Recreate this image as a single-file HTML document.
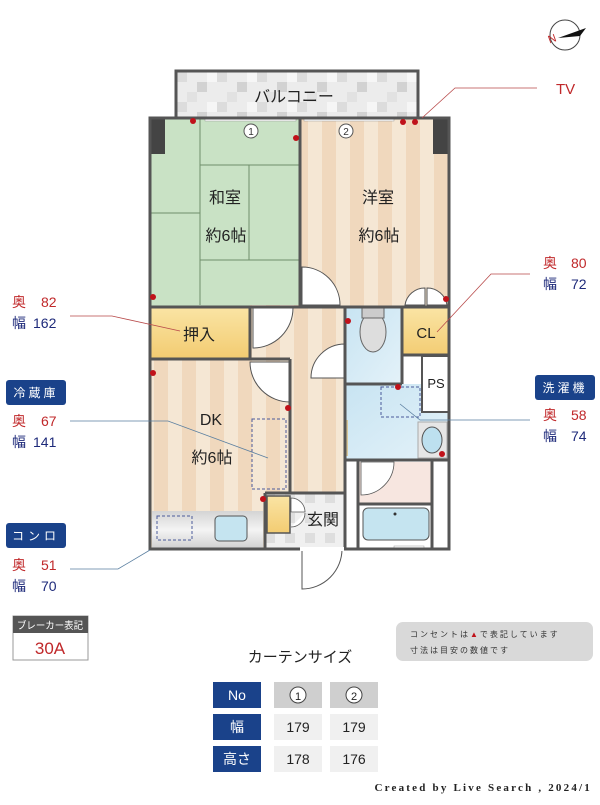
<!DOCTYPE html>
<html><head><meta charset="utf-8">
<style>
body{margin:0;background:#fff;}
svg text{font-family:"Liberation Sans","Noto Sans CJK JP",sans-serif;}
</style></head><body>
<svg width="600" height="800" viewBox="0 0 600 800" xmlns="http://www.w3.org/2000/svg">
<defs>
<pattern id="str" x="0" y="0" width="28" height="10" patternUnits="userSpaceOnUse">
<rect width="14" height="10" fill="#f5e7d4"/><rect x="14" width="14" height="10" fill="#f0d8bd"/>
</pattern>
<pattern id="chk" x="177" y="72" width="40" height="30" patternUnits="userSpaceOnUse">
<rect width="40" height="30" fill="#ececec"/><rect width="10" height="10" fill="#dcdcdc"/><rect x="20" y="10" width="10" height="10" fill="#d2d2d2"/><rect x="10" y="20" width="10" height="10" fill="#e2e2e2"/><rect x="30" y="0" width="10" height="10" fill="#f6f6f6"/>
</pattern>
<pattern id="tile" x="265" y="493" width="20" height="20" patternUnits="userSpaceOnUse">
<rect width="20" height="20" fill="#f0f0f0"/><rect width="10" height="10" fill="#dedede"/>
</pattern>
<linearGradient id="yel" x1="0" y1="0" x2="0" y2="1"><stop offset="0" stop-color="#fae4a4"/><stop offset="1" stop-color="#f3cc72"/></linearGradient>
<linearGradient id="blu" x1="0" y1="0" x2="1" y2="1"><stop offset="0" stop-color="#c8e4f2"/><stop offset="1" stop-color="#e4f2f9"/></linearGradient>
<linearGradient id="gry" x1="0" y1="0" x2="0" y2="1"><stop offset="0" stop-color="#d4d4d4"/><stop offset=".5" stop-color="#f4f4f4"/><stop offset="1" stop-color="#cfcfcf"/></linearGradient>
</defs>

<circle cx="565" cy="35" r="15" fill="#fff" stroke="#444" stroke-width="1"/>
<polygon points="558,38 586,28 580,36" fill="#111"/>
<text x="548" y="42" font-size="11" fill="#c0282a" transform="rotate(-20 553 38)">N</text>

<rect x="176" y="71" width="242" height="49" fill="url(#chk)" stroke="#555" stroke-width="3"/>
<text x="294" y="102" font-size="16" fill="#222" text-anchor="middle">バルコニー</text>

<rect x="150" y="118" width="150" height="190" fill="#c9e2c5"/>
<rect x="300" y="118" width="149" height="190" fill="url(#str)"/>
<rect x="250" y="305" width="96" height="190" fill="url(#str)"/>
<rect x="150" y="358" width="140" height="191" fill="url(#str)"/>
<g stroke="#6f8f6a" stroke-width="1" fill="none">
<line x1="200" y1="118" x2="200" y2="305"/>
<line x1="200" y1="165" x2="299" y2="165"/>
<line x1="200" y1="260" x2="299" y2="260"/>
<line x1="249" y1="165" x2="249" y2="260"/>
<line x1="150" y1="213" x2="200" y2="213"/>
</g>
<rect x="150" y="118" width="15" height="36" fill="#444"/>
<rect x="433" y="118" width="16" height="36" fill="#444"/>
<rect x="205" y="117" width="91" height="4" fill="#fff" stroke="#999" stroke-width=".5"/>
<rect x="304" y="117" width="90" height="4" fill="#fff" stroke="#999" stroke-width=".5"/>
<circle cx="251" cy="131" r="7" fill="#fff" stroke="#555"/><text x="251" y="135" font-size="10" text-anchor="middle" fill="#333">1</text>
<circle cx="346" cy="131" r="7" fill="#fff" stroke="#555"/><text x="346" y="135" font-size="10" text-anchor="middle" fill="#333">2</text>

<text x="225" y="203" font-size="16" text-anchor="middle" fill="#222">和室</text>
<text x="226" y="241" font-size="16" text-anchor="middle" fill="#222">約6帖</text>
<text x="378" y="203" font-size="16" text-anchor="middle" fill="#222">洋室</text>
<text x="379" y="241" font-size="16" text-anchor="middle" fill="#222">約6帖</text>

<rect x="150" y="308" width="100" height="50" fill="url(#yel)"/>
<text x="199" y="340" font-size="16" text-anchor="middle" fill="#222">押入</text>

<rect x="346" y="308" width="57" height="76" fill="url(#blu)"/>
<ellipse cx="373" cy="332" rx="13" ry="20" fill="#ddd" stroke="#666"/>
<rect x="362" y="308" width="22" height="10" fill="#ccc" stroke="#666"/>
<rect x="403" y="308" width="46" height="48" fill="url(#yel)"/>
<text x="426" y="338" font-size="15" text-anchor="middle" fill="#222">CL</text>
<rect x="346" y="384" width="103" height="76" fill="url(#blu)"/>
<rect x="422" y="356" width="27" height="56" fill="#fff" stroke="#555" stroke-width="2"/>
<text x="436" y="388" font-size="13" text-anchor="middle" fill="#222">PS</text>
<rect x="381" y="387" width="39" height="30" fill="none" stroke="#4a5a9a" stroke-dasharray="3,2"/>
<rect x="418" y="422" width="29" height="36" fill="#e6e6e6" stroke="#aaa"/>
<ellipse cx="432" cy="440" rx="10" ry="13" fill="#bde0ef" stroke="#555"/>
<rect x="344" y="420" width="4" height="36" fill="#d8c79a"/>
<rect x="346" y="460" width="103" height="89" fill="#fff"/>
<rect x="359" y="462" width="73" height="42" fill="#f7e6e0"/>
<rect x="359" y="504" width="73" height="45" fill="#fff"/>
<rect x="363" y="508" width="66" height="32" rx="5" fill="#c5e4f0" stroke="#555"/>
<circle cx="395" cy="514" r="1.5" fill="#333"/>
<rect x="394" y="546" width="30" height="3" fill="#fff" stroke="#999" stroke-width=".5"/>
<path d="M361 462 V495 A33 33 0 0 0 394 462 Z" fill="#fff" stroke="#555" stroke-width=".8"/>

<text x="211" y="425" font-size="16" text-anchor="middle" fill="#222">DK</text>
<text x="212" y="463" font-size="16" text-anchor="middle" fill="#222">約6帖</text>
<rect x="252" y="419" width="34" height="70" fill="none" stroke="#4a5a9a" stroke-dasharray="3,2"/>
<rect x="152" y="511" width="111" height="38" fill="url(#gry)"/>
<rect x="157" y="516" width="35" height="24" fill="none" stroke="#4a5a9a" stroke-dasharray="3,2"/>
<rect x="215" y="516" width="32" height="25" rx="4" fill="#c5e4f0" stroke="#555"/>

<rect x="265" y="493" width="80" height="56" fill="url(#tile)"/>
<rect x="267" y="496" width="23" height="37" fill="url(#yel)" stroke="#555" stroke-width="1.5"/>
<text x="323" y="525" font-size="16" text-anchor="middle" fill="#222">玄関</text>
<path d="M291 498 A14 14 0 0 1 305 512 H291 Z M291 527 A14 14 0 0 0 305 513" fill="#fff" stroke="#555" stroke-width=".8"/>

<g fill="#fff" stroke="#555" stroke-width="1">
<path d="M253 308 H293 A40 40 0 0 1 253 348 Z"/>
<path d="M290 362 V402 A40 40 0 0 1 250 362 Z"/>
<path d="M345 378 H311 A34 34 0 0 1 345 344 Z"/>
<path d="M302 305 V267 A38 38 0 0 1 340 305 Z"/>
<path d="M425 305 H405 A20 20 0 0 1 425 288 Z"/>
<path d="M427 305 H447 A20 20 0 0 0 427 288 Z"/>
<path d="M302 549 V589 A40 40 0 0 0 342 549"/>
</g>

<g stroke="#555" stroke-width="3" fill="none">
<rect x="150" y="118" width="299" height="431"/>
<line x1="300" y1="118" x2="300" y2="308"/>
<line x1="150" y1="307" x2="449" y2="307"/>
<line x1="150" y1="359" x2="290" y2="359"/>
<line x1="250" y1="307" x2="250" y2="359"/>
<line x1="290" y1="359" x2="290" y2="493"/>
<line x1="265" y1="493" x2="345" y2="493"/>
<line x1="265" y1="493" x2="265" y2="549"/>
<line x1="345" y1="307" x2="345" y2="549"/>
<line x1="402" y1="307" x2="402" y2="384"/>
<line x1="345" y1="384" x2="402" y2="384"/>
<line x1="402" y1="355" x2="449" y2="355"/>
<line x1="345" y1="460" x2="449" y2="460"/>
<line x1="358" y1="460" x2="358" y2="549"/>
<line x1="432" y1="460" x2="432" y2="549"/>
<line x1="358" y1="504" x2="432" y2="504"/>
</g>
<rect x="300" y="547" width="44" height="4" fill="#fff"/>

<g fill="#c0121a">
<circle cx="193" cy="121" r="3"/><circle cx="296" cy="138" r="3"/><circle cx="403" cy="122" r="3"/><circle cx="415" cy="122" r="3"/>
<circle cx="153" cy="297" r="3"/><circle cx="446" cy="299" r="3"/><circle cx="153" cy="373" r="3"/><circle cx="348" cy="321" r="3"/>
<circle cx="398" cy="387" r="3"/><circle cx="288" cy="408" r="3"/><circle cx="442" cy="454" r="3"/><circle cx="263" cy="499" r="3"/>
</g>

<g fill="none" stroke-width="0.8">
<polyline points="70,316 112,316 180,331" stroke="#b84a4a"/>
<polyline points="70,421 168,421 268,458" stroke="#5a7fa0"/>
<polyline points="70,569 118,569 150,550" stroke="#5a7fa0"/>
<polyline points="537,88 455,88 422,118" stroke="#b84a4a"/>
<polyline points="530,274 491,274 437,332" stroke="#b84a4a"/>
<polyline points="530,420 420,420 400,404" stroke="#5a7fa0"/>
</g>

<g font-size="14">
<text x="12" y="307" fill="#c0282a">奥</text><text x="41" y="307" fill="#c0282a">82</text>
<text x="12" y="328" fill="#1e2a7a">幅</text><text x="33" y="328" fill="#1e2a7a">162</text>
<rect x="6" y="380" width="60" height="25" rx="3" fill="#1a428a"/>
<text x="36" y="397" font-size="12" fill="#fff" text-anchor="middle" letter-spacing="3">冷蔵庫</text>
<text x="12" y="426" fill="#c0282a">奥</text><text x="41" y="426" fill="#c0282a">67</text>
<text x="12" y="447" fill="#1e2a7a">幅</text><text x="33" y="447" fill="#1e2a7a">141</text>
<rect x="6" y="523" width="60" height="25" rx="3" fill="#1a428a"/>
<text x="36" y="540" font-size="12" fill="#fff" text-anchor="middle" letter-spacing="4">コンロ</text>
<text x="12" y="570" fill="#c0282a">奥</text><text x="41" y="570" fill="#c0282a">51</text>
<text x="12" y="591" fill="#1e2a7a">幅</text><text x="41" y="591" fill="#1e2a7a">70</text>
<text x="556" y="94" fill="#c0282a" font-size="15">TV</text>
<text x="543" y="268" fill="#c0282a">奥</text><text x="571" y="268" fill="#c0282a">80</text>
<text x="543" y="289" fill="#1e2a7a">幅</text><text x="571" y="289" fill="#1e2a7a">72</text>
<rect x="535" y="375" width="60" height="25" rx="3" fill="#1a428a"/>
<text x="565" y="392" font-size="12" fill="#fff" text-anchor="middle" letter-spacing="3">洗濯機</text>
<text x="543" y="420" fill="#c0282a">奥</text><text x="571" y="420" fill="#c0282a">58</text>
<text x="543" y="441" fill="#1e2a7a">幅</text><text x="571" y="441" fill="#1e2a7a">74</text>
</g>

<rect x="13" y="616" width="75" height="44" fill="#fff" stroke="#999"/>
<rect x="13" y="616" width="75" height="17" fill="#555"/>
<text x="50" y="629" font-size="10" fill="#fff" text-anchor="middle" textLength="66" lengthAdjust="spacingAndGlyphs">ブレーカー表記</text>
<text x="50" y="654" font-size="17" fill="#c0282a" text-anchor="middle">30A</text>

<rect x="396" y="622" width="197" height="39" rx="7" fill="#d9d9d9"/>
<text x="410" y="637" font-size="8" fill="#333" letter-spacing="2">コンセントは<tspan fill="#c0121a">▲</tspan>で表記しています</text>
<text x="410" y="653" font-size="8" fill="#333" letter-spacing="2">寸法は目安の数値です</text>

<text x="300" y="662" font-size="15" fill="#222" text-anchor="middle">カーテンサイズ</text>

<g font-size="14" text-anchor="middle">
<rect x="213" y="682" width="48" height="26" fill="#1a428a"/><text x="237" y="700" fill="#fff">No</text>
<rect x="274" y="682" width="48" height="26" fill="#cfcfcf"/><circle cx="298" cy="695" r="8" fill="#fff" stroke="#444"/><text x="298" y="700" font-size="11" fill="#222">1</text>
<rect x="330" y="682" width="48" height="26" fill="#cfcfcf"/><circle cx="354" cy="695" r="8" fill="#fff" stroke="#444"/><text x="354" y="700" font-size="11" fill="#222">2</text>
<rect x="213" y="714" width="48" height="26" fill="#1a428a"/><text x="237" y="732" fill="#fff">幅</text>
<rect x="274" y="714" width="48" height="26" fill="#f0f0f0"/><text x="298" y="732" fill="#222">179</text>
<rect x="330" y="714" width="48" height="26" fill="#f0f0f0"/><text x="354" y="732" fill="#222">179</text>
<rect x="213" y="746" width="48" height="26" fill="#1a428a"/><text x="237" y="764" fill="#fff">高さ</text>
<rect x="274" y="746" width="48" height="26" fill="#f0f0f0"/><text x="298" y="764" fill="#222">178</text>
<rect x="330" y="746" width="48" height="26" fill="#f0f0f0"/><text x="354" y="764" fill="#222">176</text>
</g>
<text x="592" y="791" font-size="11" fill="#222" text-anchor="end" letter-spacing="2.2" style="font-family:'Liberation Serif',serif;font-weight:bold">Created by Live Search , 2024/1</text>
</svg>
</body></html>
